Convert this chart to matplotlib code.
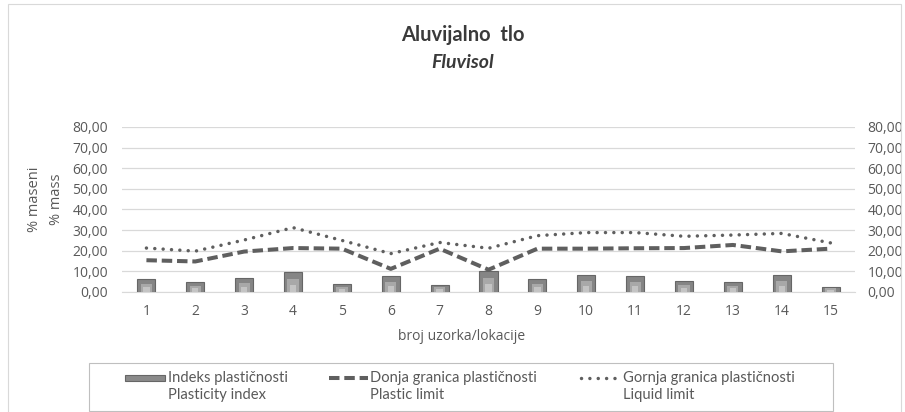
import matplotlib.pyplot as plt
from matplotlib.ticker import FuncFormatter
from matplotlib.patches import Rectangle
from matplotlib.lines import Line2D
import numpy as np

plt.rcParams['font.family'] = ['Lato', 'DejaVu Sans']

# data
samples = list(range(1, 16))
plasticity_index = [6.1, 4.7, 6.6, 9.9, 4.0, 7.6, 3.5, 10.4, 6.1, 8.2, 7.6, 5.2, 4.7, 8.2, 2.6]
plastic_limit = [15.4, 14.8, 19.6, 21.3, 21.0, 11.2, 21.0, 10.8, 21.0, 21.0, 21.2, 21.3, 22.8, 19.7, 21.0]
liquid_limit = [21.3, 19.8, 25.2, 31.2, 25.0, 18.6, 24.0, 21.2, 27.3, 28.8, 28.8, 27.0, 27.6, 28.4, 23.8]

grey_txt = '#595959'
line_col = '#5f5f5f'
tick_font = ['Open Sans', 'DejaVu Sans']
comma = FuncFormatter(lambda v, p: ('%.2f' % v).replace('.', ','))

fig = plt.figure(figsize=(9.05, 4.12), dpi=100)
ax = fig.add_axes([0.1348, 0.2913, 0.81, 0.4005])

x = np.arange(len(samples))
bars = ax.bar(x, plasticity_index, width=0.37, color='#858585', edgecolor='#666666',
              linewidth=0.8, zorder=3)
# soft bevel look
for b in bars:
    h = b.get_height()
    ax.add_patch(Rectangle((b.get_x() + 0.07, 0.1), b.get_width() - 0.14, h * 0.62,
                           color='#a8a8a8', zorder=4, lw=0))
    ax.add_patch(Rectangle((b.get_x() + 0.12, 0.1), b.get_width() - 0.24, h * 0.35,
                           color='#c4c4c4', zorder=4, lw=0))
ax.plot(x, plastic_limit, color=line_col, lw=2.9, ls=(0, (2.6, 1.2)), zorder=5)
ax.plot(x, liquid_limit, color=line_col, lw=2.5, ls=(0, (0.01, 2.4)),
        dash_capstyle='round', zorder=5)

ax.set_xlim(-0.5, len(samples) - 0.5)
ax.set_ylim(0, 80)
ax.set_yticks(range(0, 81, 10))
ax.yaxis.set_major_formatter(comma)
ax.set_xticks(x)
ax.set_xticklabels([str(s) for s in samples])
ax.tick_params(length=0, colors=grey_txt)
ax.tick_params(axis='y', pad=10)
ax.tick_params(axis='x', pad=9)
for lab in ax.get_xticklabels() + ax.get_yticklabels():
    lab.set_family(tick_font)
    lab.set_fontsize(10)
ax.yaxis.grid(True, color='#d9d9d9', lw=0.9, zorder=0)
for s in ['top', 'right', 'left']:
    ax.spines[s].set_visible(False)
ax.spines['bottom'].set_color('#d9d9d9')

ax2 = ax.twinx()
ax2.set_ylim(0, 80)
ax2.set_yticks(range(0, 81, 10))
ax2.yaxis.set_major_formatter(comma)
ax2.tick_params(length=0, colors=grey_txt, pad=9)
for lab in ax2.get_yticklabels():
    lab.set_family(tick_font)
    lab.set_fontsize(10)
for s in ax2.spines.values():
    s.set_visible(False)

def fx(px):
    return px / 905.0

def fy(py):
    return 1 - py / 412.0

# axis titles
fig.text(fx(462), fy(336), 'broj uzorka/lokacije', ha='center', va='center',
         fontsize=10, color=grey_txt, family=tick_font)
fig.text(fx(35), fy(199), '% maseni', ha='center', va='center', rotation=90,
         fontsize=10.5, color=grey_txt, family=tick_font)
fig.text(fx(56), fy(199), '% mass', ha='center', va='center', rotation=90,
         fontsize=10.5, color=grey_txt, family=tick_font)

# chart title
fig.text(fx(462.5), fy(35), 'Aluvijalno  tlo', ha='center', va='center', fontsize=14.5,
         fontweight='bold', color='#3a3a3a')
fig.text(fx(462.5), fy(62), 'Fluvisol', ha='center', va='center', fontsize=14,
         fontweight='bold', style='italic', color='#3a3a3a')

# legend drawn by hand to match the two-line layout
fig.patches.append(Rectangle((fx(89), fy(411)), fx(833 - 89), (411 - 363) / 412.0,
                             transform=fig.transFigure, fill=False,
                             edgecolor='#bfbfbf', lw=0.8))
fig.patches.append(Rectangle((fx(125), fy(381)), fx(40), 6 / 412.0,
                             transform=fig.transFigure, facecolor='#8a8a8a',
                             edgecolor='#666666', lw=0.8))
fig.lines.append(Line2D([fx(329), fx(368)], [fy(378), fy(378)], transform=fig.transFigure,
                        color=line_col, lw=2.9, ls=(0, (2.6, 1.2))))
fig.lines.append(Line2D([fx(581), fx(621)], [fy(378), fy(378)], transform=fig.transFigure,
                        color=line_col, lw=2.5, ls=(0, (0.01, 2.4)), dash_capstyle='round'))
leg_x = [168, 370, 623]
leg_first = ['Indeks plastičnosti', 'Donja granica plastičnosti', 'Gornja granica plastičnosti']
leg_second = ['Plasticity index', 'Plastic limit', 'Liquid limit']
for px, t1, t2 in zip(leg_x, leg_first, leg_second):
    fig.text(fx(px), fy(378), t1, ha='left', va='center', fontsize=10.6, color=grey_txt)
    fig.text(fx(px), fy(395), t2, ha='left', va='center', fontsize=10.6, color=grey_txt)

# outer chart border
fig.patches.append(Rectangle((fx(8), -0.01), fx(905 - 8 - 4), 1.0, transform=fig.transFigure,
                             fill=False, edgecolor='#d9d9d9', lw=0.8))

fig.savefig('out.png', dpi=100)
